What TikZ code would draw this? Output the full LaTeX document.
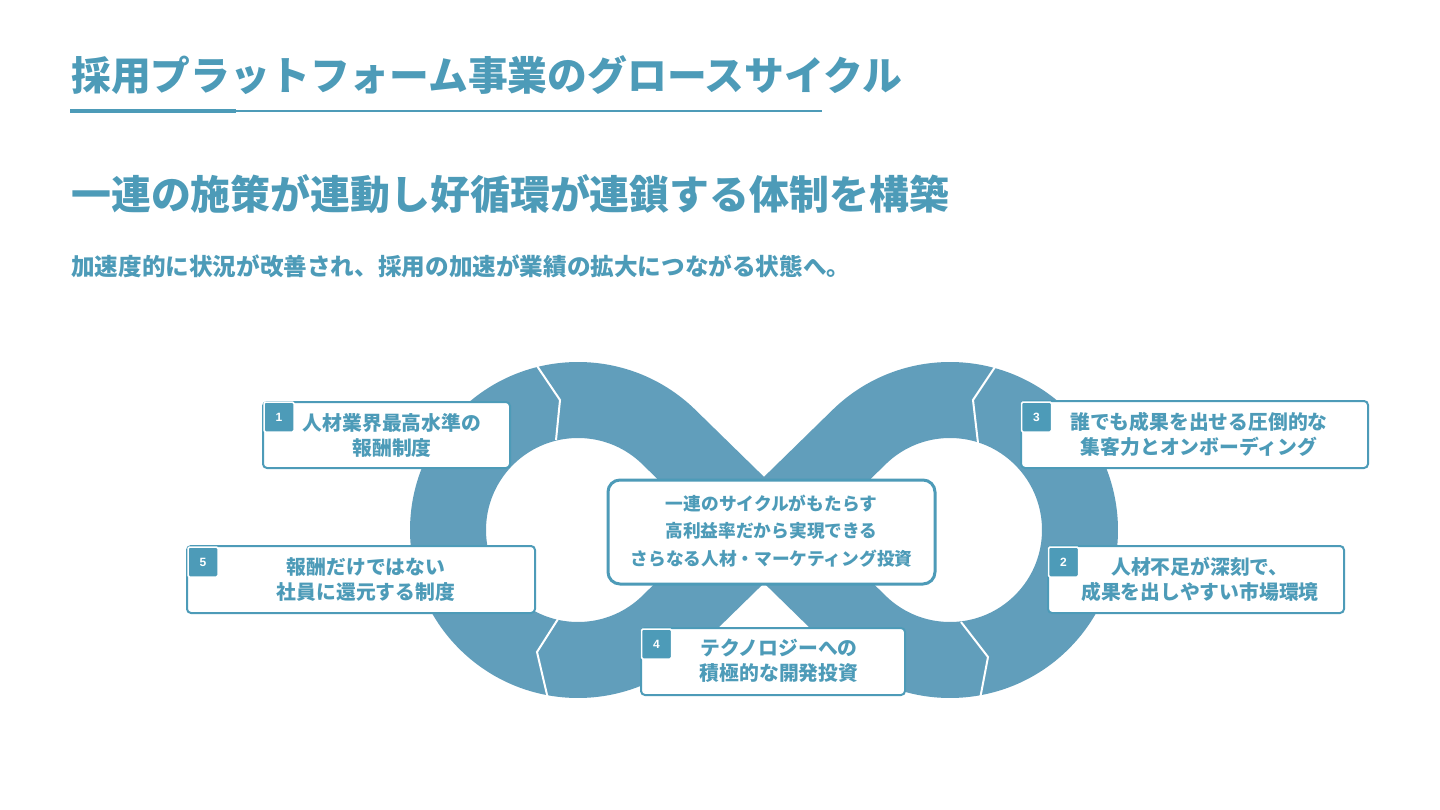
\documentclass[tikz,border=0pt]{standalone}
\usepackage{fontspec}
\setmainfont{Noto Sans CJK JP}
\newfontfamily\numfont{Liberation Sans}
\usetikzlibrary{calc}
\definecolor{band}{HTML}{619EBB}
\definecolor{ink}{HTML}{4D9BB8}
\tikzset{
  bandpath/.style={draw=band, line width=76, line join=round},
  sep/.style={draw=white, line width=2, line join=miter},
  card/.style={draw=ink, line width=2, rounded corners=4, fill=white, inner sep=0},
  tab/.style={fill=ink, draw=white, line width=1.5, minimum width=30, minimum height=30, inner sep=0, rounded corners=1.5, text=white, font=\numfont\bfseries\fontsize{12}{12}\selectfont},
  cardtext/.style={text=ink, inner sep=0, align=center, font=\bfseries\fontsize{19.8}{25}\selectfont},
  hubbox/.style={draw=ink, line width=3, rounded corners=12, fill=white, inner sep=0, minimum width=327, minimum height=104},
  hubtext/.style={text=ink, inner sep=0, align=center, font=\bfseries\fontsize{17.7}{27.5}\selectfont},
  heading/.style={text=ink, inner sep=0, anchor=west}
}
\begin{document}
\begin{tikzpicture}[x=1pt,y=-1pt]
\useasboundingbox[fill=white] (0,0) rectangle (1440,810);

% titles
\node[heading, font=\bfseries\fontsize{39.8}{45}\selectfont] (title) at (71,75) {採用プラットフォーム事業のグロースサイクル};
\coordinate (u0) at (70,111);
\coordinate (u1) at (236,111);
\coordinate (u2) at (822,111);
\draw[ink, line width=1.5] (u1) -- (u2);
\draw[ink, line width=3.2] (u0) -- (u1);
\node[heading, font=\bfseries\fontsize{39.9}{45}\selectfont] (head) at (71,194) {一連の施策が連動し好循環が連鎖する体制を構築};
\node[heading, font=\bfseries\fontsize{23.6}{28}\selectfont] (sub) at (71,266) {加速度的に状況が改善され、採用の加速が業績の拡大につながる状態へ。};

% infinity band
\coordinate (C1) at (578,530);
\coordinate (C2) at (950,530);
\draw[bandpath] ($(C1)+(-45.66:130)$) arc[start angle=-45.66, end angle=-314.34, radius=130]
  -- ($(C2)+(-134.34:130)$) arc[start angle=-134.34, end angle=134.34, radius=130] -- cycle;

% segment separators
\draw[sep] (533,360) -- (560,400) -- (556,440);
\draw[sep] (558,619) -- (537,652) -- (548,699);
\draw[sep] (997,364) -- (973,400) -- (978,443);
\draw[sep] (961,622) -- (988,657) -- (980,699);

% hub
\node[hubbox] (hub) at (771.5,532) {};
\node[hubtext] (hubt) at (771.5,531) {一連のサイクルがもたらす\\高利益率だから実現できる\\さらなる人材・マーケティング投資};

% card 1
\node[card, minimum width=247, minimum height=66] (b1) at (386.5,435) {};
\node[tab] (n1) at (279,417) {1};
\node[cardtext] (t1) at (392,435) {人材業界最高水準の\\報酬制度};
% card 5
\node[card, minimum width=348, minimum height=67] (b5) at (361,579.5) {};
\node[tab] (n5) at (203,562) {5};
\node[cardtext] (t5) at (366,579.5) {報酬だけではない\\社員に還元する制度};
% card 3
\node[card, minimum width=347, minimum height=67] (b3) at (1194.5,434.5) {};
\node[tab] (n3) at (1036.5,417) {3};
\node[cardtext] (t3) at (1199,434.5) {誰でも成果を出せる圧倒的な\\集客力とオンボーディング};
% card 2
\node[card, minimum width=296, minimum height=67] (b2) at (1196,579.5) {};
\node[tab] (n2) at (1063.5,562) {2};
\node[cardtext] (t2) at (1200,579.5) {人材不足が深刻で、\\成果を出しやすい市場環境};
% card 4
\node[card, minimum width=264, minimum height=67] (b4) at (773,661.5) {};
\node[tab] (n4) at (656.5,644) {4};
\node[cardtext] (t4) at (779,661) {テクノロジーへの\\積極的な開発投資};
\end{tikzpicture}
\end{document}
